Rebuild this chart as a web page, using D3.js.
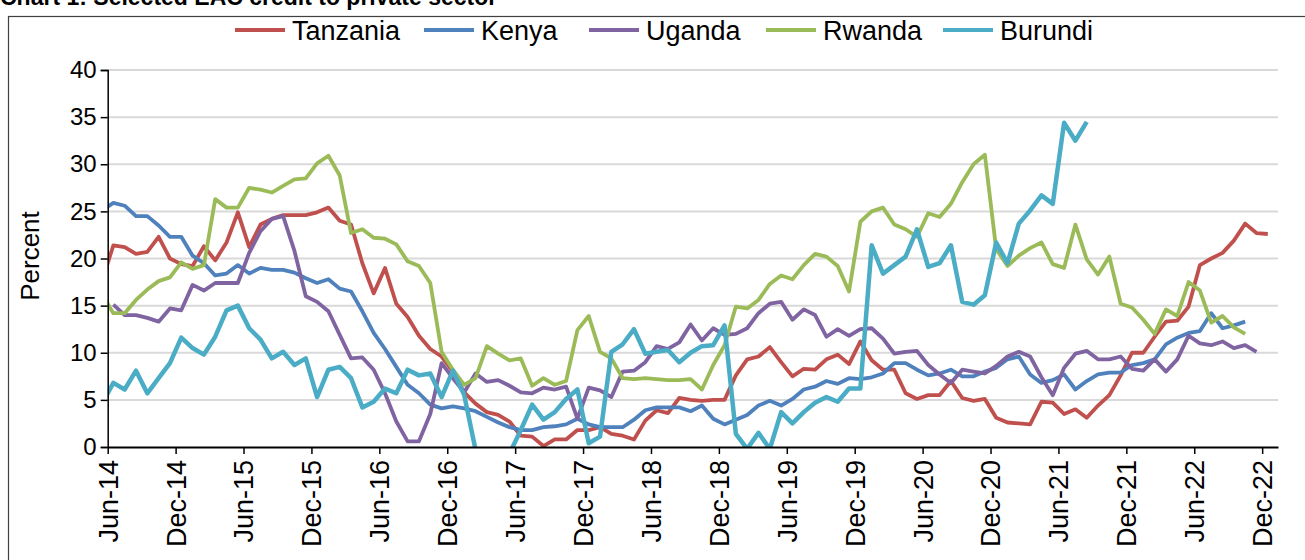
<!DOCTYPE html>
<html>
<head>
<meta charset="utf-8">
<script src="https://cdn.jsdelivr.net/npm/d3@7/dist/d3.min.js"></script>
<style>
  body { margin: 0; background: #fff; }
  svg text { font-family: "Liberation Sans", Arial, sans-serif; fill: #000; }
</style>
</head>
<body>
<div id="chart"></div>
<script>
// monthly growth, % - first entry is May-14 (axis starts at Jun-14 so it is clipped)
var tanzania = [17.6, 21.4, 21.2, 20.5, 20.7, 22.3, 20.0, 19.4, 19.2, 21.3, 19.8, 21.7, 24.9, 21.2, 23.6, 24.2, 24.6, 24.6,
  24.6, 24.9, 25.4, 24.0, 23.6, 19.5, 16.3, 19.0, 15.2, 13.8, 11.8, 10.4, 9.6, 8.0, 5.8, 4.6, 3.7, 3.4,
  2.7, 1.2, 1.1, 0.1, 0.8, 0.8, 1.8, 1.8, 2.1, 1.4, 1.2, 0.8, 2.8, 3.9, 3.6, 5.2, 5.0, 4.9,
  5.0, 5.0, 7.6, 9.3, 9.6, 10.6, 9.0, 7.5, 8.3, 8.2, 9.3, 9.8, 8.8, 11.2, 9.2, 8.2, 8.2, 5.7,
  5.1, 5.5, 5.5, 7.0, 5.2, 4.9, 5.1, 3.1, 2.6, 2.5, 2.4, 4.8, 4.7, 3.5, 4.0, 3.1, 4.4, 5.5,
  7.6, 10.0, 10.0, 11.7, 13.3, 13.4, 14.9, 19.3, 20.0, 20.6, 21.9, 23.7, 22.7, 22.6];

var kenya = [25.1, 25.9, 25.6, 24.5, 24.5, 23.5, 22.3, 22.3, 20.3, 19.5, 18.2, 18.4, 19.3, 18.4, 19.0, 18.8, 18.8, 18.5,
  17.9, 17.4, 17.8, 16.8, 16.5, 14.4, 12.1, 10.4, 8.5, 6.6, 5.7, 4.5, 4.1, 4.3, 4.1, 3.8, 3.2, 2.6,
  2.1, 1.8, 1.8, 2.1, 2.2, 2.4, 3.0, 2.4, 2.1, 2.1, 2.1, 2.9, 3.9, 4.2, 4.2, 4.2, 3.8, 4.4,
  3.0, 2.4, 2.9, 3.4, 4.4, 4.9, 4.4, 5.1, 6.1, 6.4, 7.0, 6.7, 7.3, 7.2, 7.4, 7.8, 8.9, 8.9,
  8.2, 7.6, 7.8, 8.2, 7.5, 7.5, 8.0, 8.4, 9.3, 9.6, 7.7, 6.8, 7.1, 7.7, 6.1, 7.0, 7.7, 7.9,
  7.9, 8.7, 8.9, 9.3, 10.9, 11.6, 12.1, 12.3, 14.2, 12.6, 12.9, 13.3, null, null];

var uganda = [null, 15.1, 14.0, 14.0, 13.7, 13.3, 14.7, 14.5, 17.2, 16.6, 17.4, 17.4, 17.4, 20.6, 22.9, 24.2, 24.5, 20.8,
  16.0, 15.4, 14.4, 11.9, 9.4, 9.5, 8.2, 5.7, 2.7, 0.6, 0.6, 3.5, 8.9, 7.3, 5.8, 7.8, 6.9, 7.1,
  6.5, 5.8, 5.7, 6.3, 6.1, 6.4, 3.0, 6.3, 6.0, 5.3, 8.0, 8.1, 9.0, 10.7, 10.4, 11.1, 13.0, 11.3,
  12.6, 11.9, 12.0, 12.6, 14.2, 15.2, 15.4, 13.5, 14.6, 14.0, 11.7, 12.5, 11.8, 12.5, 12.6, 11.5, 9.9, 10.1,
  10.2, 8.7, 7.7, 6.8, 8.2, 8.0, 7.8, 8.6, 9.6, 10.1, 9.6, 7.4, 5.5, 8.4, 9.9, 10.2, 9.3, 9.3,
  9.6, 8.3, 8.1, 9.3, 8.0, 9.3, 11.8, 11.0, 10.8, 11.2, 10.5, 10.8, 10.1, null];

var rwanda = [16.2, 14.2, 14.2, 15.6, 16.7, 17.6, 18.0, 19.6, 18.9, 19.3, 26.3, 25.4, 25.4, 27.5, 27.3, 27.0, 27.7, 28.4,
  28.5, 30.1, 30.9, 28.8, 22.7, 23.1, 22.2, 22.1, 21.5, 19.7, 19.2, 17.4, 10.1, 8.2, 6.6, 7.3, 10.7, 9.9,
  9.2, 9.4, 6.5, 7.3, 6.6, 7.0, 12.4, 13.9, 10.1, 9.4, 7.3, 7.2, 7.3, 7.2, 7.1, 7.1, 7.2, 6.1,
  8.7, 10.8, 14.9, 14.7, 15.6, 17.3, 18.2, 17.8, 19.3, 20.5, 20.2, 19.2, 16.5, 23.9, 25.0, 25.4, 23.6, 23.1,
  22.3, 24.8, 24.4, 25.8, 28.1, 30.0, 31.0, 21.0, 19.2, 20.3, 21.1, 21.7, 19.4, 19.0, 23.6, 19.9, 18.3, 20.2,
  15.2, 14.8, 13.5, 12.0, 14.6, 13.9, 17.5, 16.6, 13.2, 13.9, 12.7, 12.0, null, null];

var burundi = [4.6, 6.8, 6.1, 8.1, 5.7, 7.3, 8.9, 11.6, 10.5, 9.8, 11.7, 14.5, 15.0, 12.6, 11.4, 9.4, 10.1, 8.7,
  9.4, 5.3, 8.2, 8.5, 7.3, 4.2, 4.8, 6.2, 5.7, 8.2, 7.6, 7.8, 5.3, 8.1, 5.5, -0.3, -3.0, -3.5,
  -0.7, 1.8, 4.5, 2.9, 3.7, 5.1, 6.1, 0.4, 1.1, 10.1, 10.9, 12.5, 9.9, 10.1, 10.3, 9.0, 10.0, 10.7,
  10.8, 12.9, 1.4, -0.2, 1.5, -0.2, 3.7, 2.5, 3.7, 4.7, 5.3, 4.8, 6.2, 6.2, 21.4, 18.4, 19.3, 20.2,
  23.1, 19.1, 19.5, 21.4, 15.4, 15.1, 16.1, 21.7, 19.5, 23.7, 25.1, 26.7, 25.8, 34.4, 32.5, 34.5];

var seriesNames = ["Tanzania", "Kenya", "Uganda", "Rwanda", "Burundi"];
var seriesColors = ["#C0504D", "#4F81BD", "#8064A2", "#9BBB59", "#4BACC6"];

var tickLabels = ["Jun-14", "Dec-14", "Jun-15", "Dec-15", "Jun-16", "Dec-16", "Jun-17", "Dec-17", "Jun-18",
  "Dec-18", "Jun-19", "Dec-19", "Jun-20", "Dec-20", "Jun-21", "Dec-21", "Jun-22", "Dec-22"];
var yTicks = [0, 5, 10, 15, 20, 25, 30, 35, 40];

var svgWidth = 1305, svgHeight = 560;
var plot = { left: 107.7, right: 1278, top: 70, bottom: 447 };

var svg = d3.select("#chart").append("svg")
  .attr("width", svgWidth)
  .attr("height", svgHeight);

// chart title, mostly cut off at the top of the picture
svg.append("text")
  .attr("x", 0)
  .attr("y", 5)
  .style("font-size", "23px")
  .style("font-weight", "bold")
  .text("Chart 1: Selected EAC credit to private sector");

// outer frame
svg.append("rect")
  .attr("x", 8.5).attr("y", 16.5)
  .attr("width", 1320).attr("height", 600)
  .attr("fill", "none")
  .attr("stroke", "#404040")
  .attr("stroke-width", 1.2);

// month index 0 = Jun-14
var x = d3.scaleLinear().domain([0, 103.4]).range([plot.left, plot.right]);
var y = d3.scaleLinear().domain([0, 40]).range([plot.bottom, plot.top]);

// gridlines
svg.append("g").selectAll("line")
  .data(yTicks.filter(d => d > 0))
  .enter().append("line")
  .attr("x1", plot.left).attr("x2", plot.right)
  .attr("y1", d => y(d)).attr("y2", d => y(d))
  .attr("stroke", "#d9d9d9")
  .attr("stroke-width", 2);

// series
svg.append("clipPath").attr("id", "plotclip")
  .append("rect")
  .attr("x", plot.left).attr("y", plot.top - 5)
  .attr("width", plot.right - plot.left).attr("height", plot.bottom - plot.top + 6);

var allSeries = [tanzania, kenya, uganda, rwanda, burundi];

var line = d3.line()
  .defined(d => d != null)
  .x((d, i) => x(i - 0.5))   // point sits mid-month, entry 0 is May-14
  .y(d => y(d));

svg.append("g").attr("clip-path", "url(#plotclip)")
  .selectAll("path")
  .data(allSeries)
  .enter().append("path")
  .attr("d", d => line(d))
  .attr("fill", "none")
  .attr("stroke", (d, i) => seriesColors[i])
  .attr("stroke-width", (d, i) => i == 4 ? 4.5 : 3.8)
  .attr("stroke-linejoin", "round");

// y axis
var yAxis = svg.append("g")
  .attr("transform", `translate(${plot.left},0)`)
  .call(d3.axisLeft(y).tickValues(yTicks).tickSize(7).tickPadding(4));
yAxis.select(".domain").attr("stroke", "#000").attr("stroke-width", 1.5);
yAxis.selectAll(".tick line").attr("stroke", "#000").attr("stroke-width", 1.5);
yAxis.selectAll(".tick text").style("font-size", "24px").style("font-family", "Liberation Sans, Arial, sans-serif");

// x axis
var xTickVals = tickLabels.map((d, i) => i * 6);
var xAxis = svg.append("g")
  .attr("transform", `translate(0,${plot.bottom})`)
  .call(d3.axisBottom(x).tickValues(xTickVals).tickSize(7).tickSizeOuter(0)
    .tickFormat((d, i) => tickLabels[i]));
xAxis.select(".domain").attr("stroke", "#000").attr("stroke-width", 2);
xAxis.selectAll(".tick line").attr("stroke", "#000").attr("stroke-width", 1.5);
xAxis.selectAll(".tick text")
  .style("font-size", "27px")
  .style("font-family", "Liberation Sans, Arial, sans-serif")
  .attr("text-anchor", "end")
  .attr("transform", "rotate(-90)")
  .attr("x", -13)
  .attr("y", 0)
  .attr("dy", "0.35em");

// y label
svg.append("text")
  .attr("transform", "translate(39,256) rotate(-90)")
  .attr("text-anchor", "middle")
  .style("font-size", "26px")
  .text("Percent");

// legend
var legendX = [235, 424, 589, 766, 943];
var legend = svg.append("g").selectAll("g")
  .data(seriesNames)
  .enter().append("g")
  .attr("transform", (d, i) => `translate(${legendX[i]},30)`);
legend.append("line")
  .attr("x1", 0).attr("x2", 50)
  .attr("stroke", (d, i) => seriesColors[i])
  .attr("stroke-width", 4);
legend.append("text")
  .attr("x", 57)
  .attr("dy", "0.36em")
  .style("font-size", "27px")
  .text(d => d);
</script>
</body>
</html>
